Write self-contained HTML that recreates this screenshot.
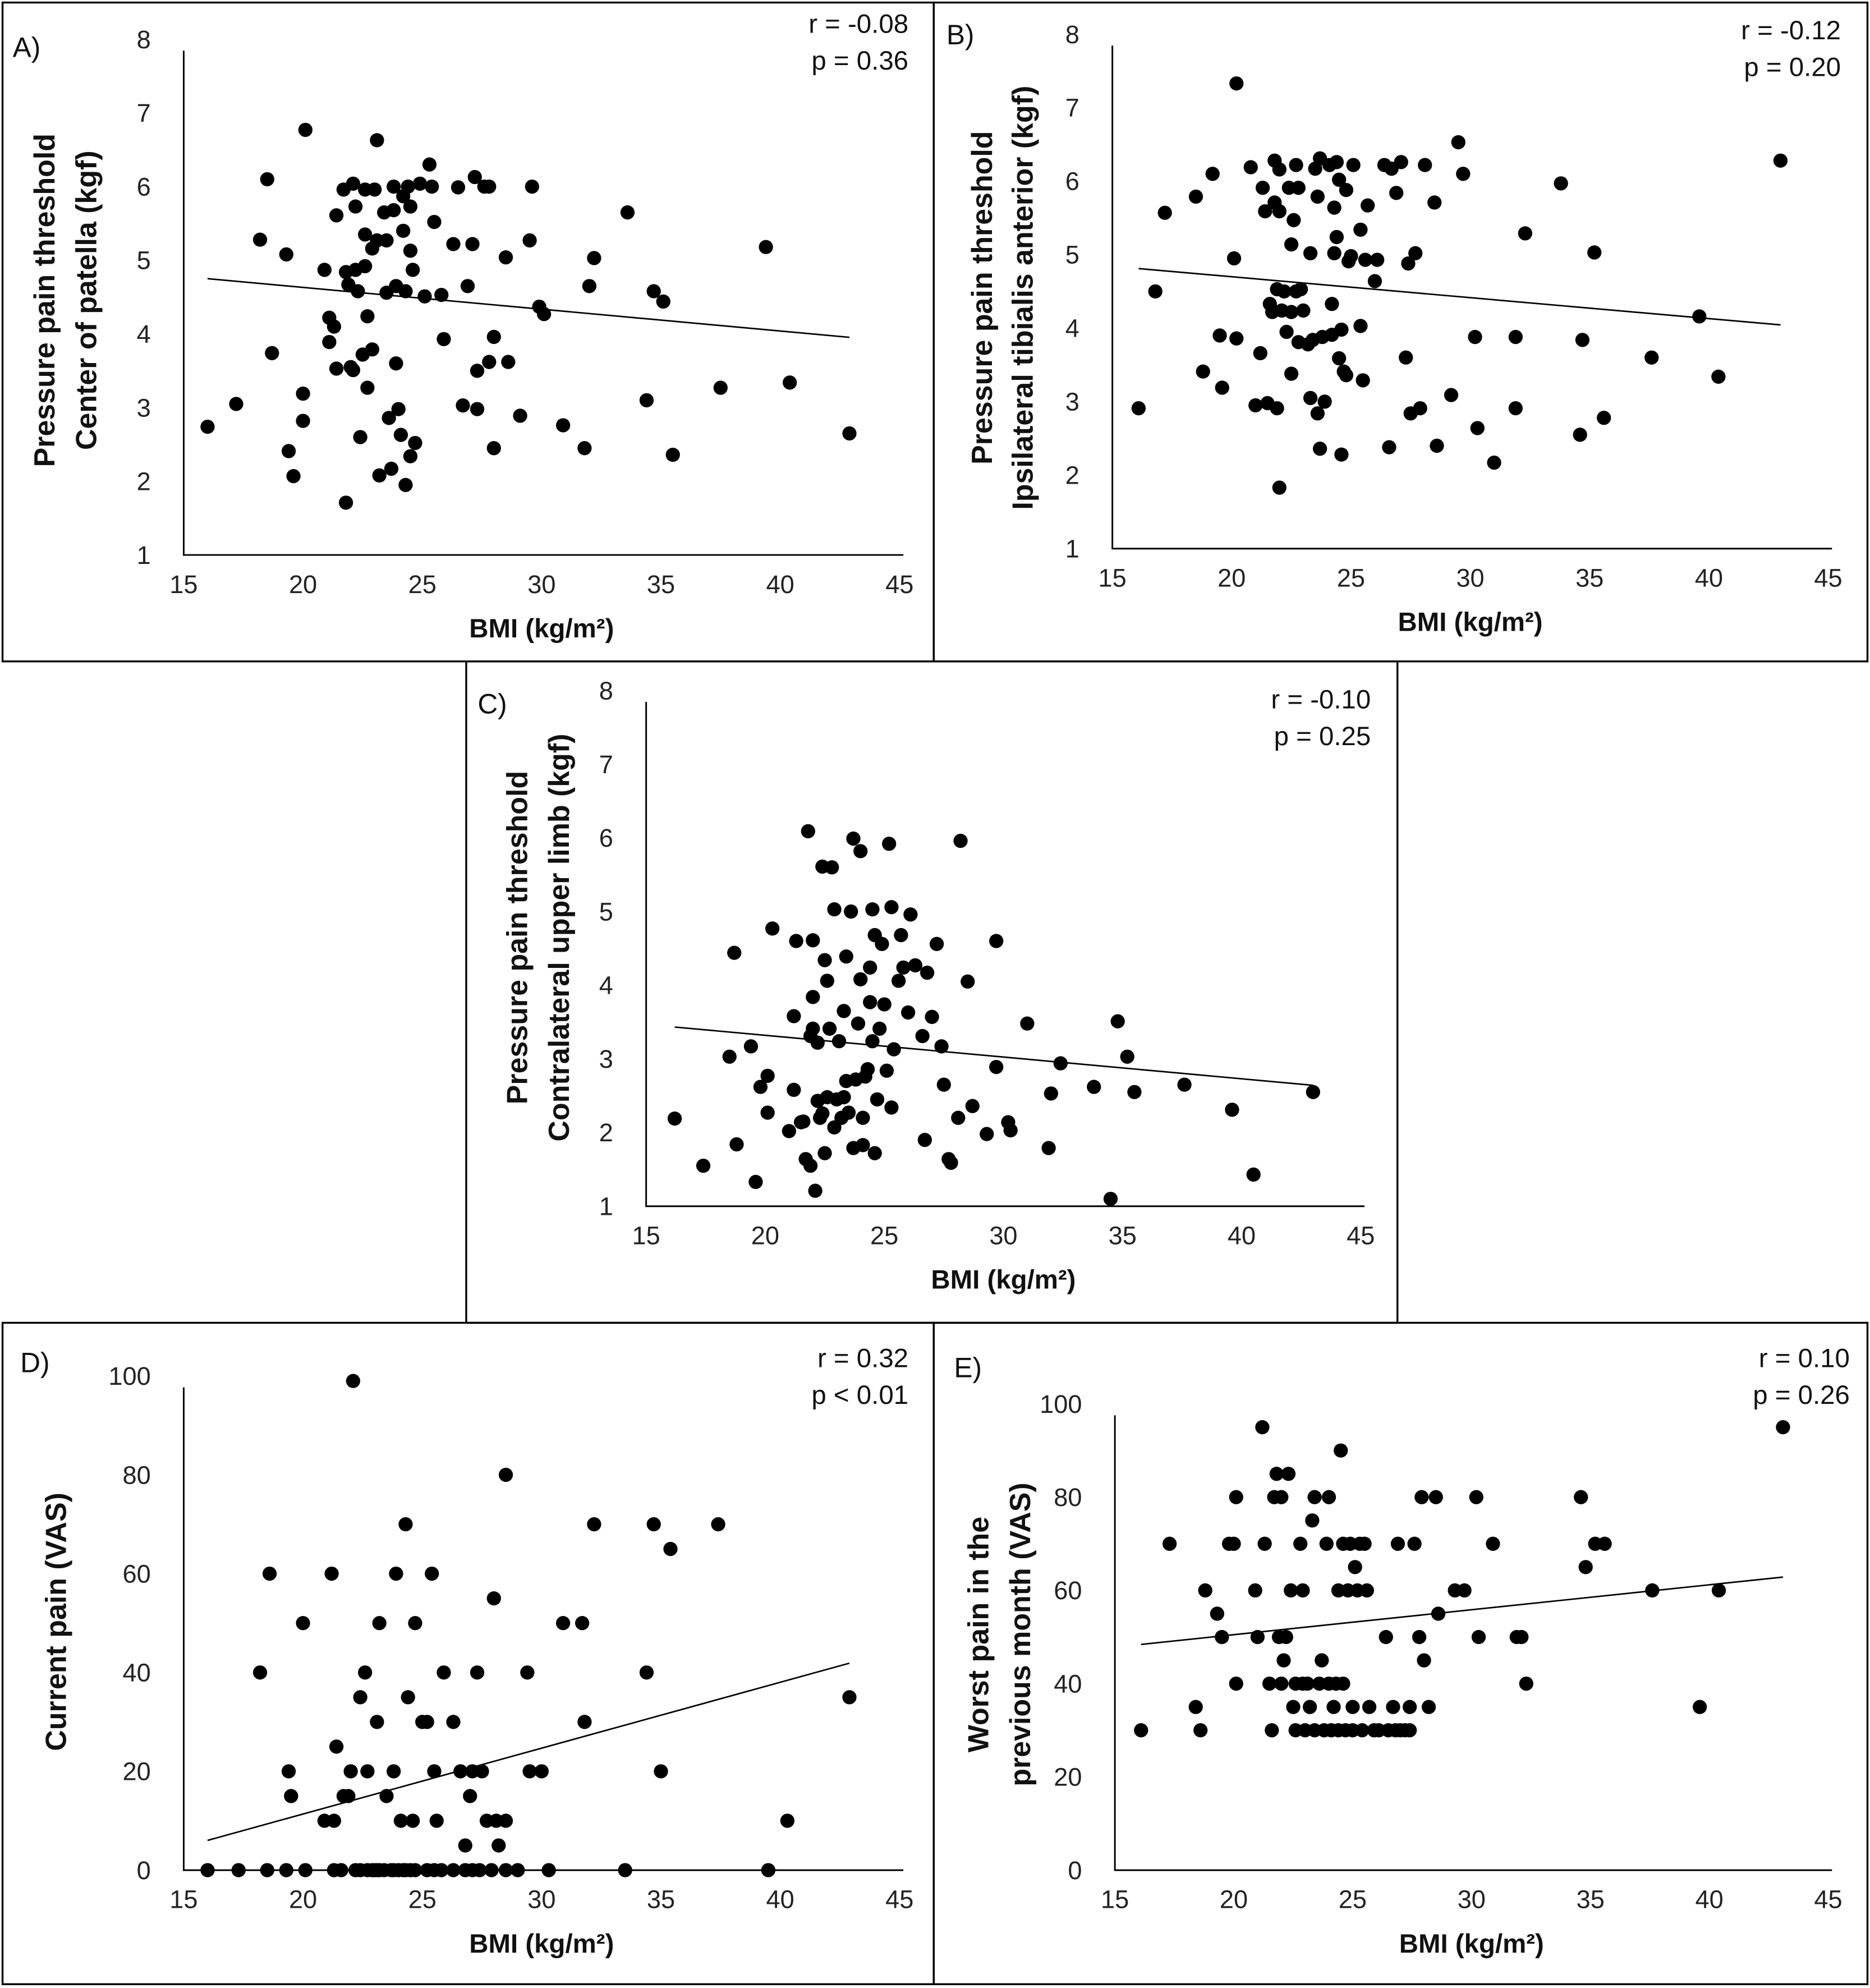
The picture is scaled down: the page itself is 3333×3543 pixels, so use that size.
<!DOCTYPE html>
<html><head><meta charset="utf-8"><style>
html,body{margin:0;padding:0;background:#fff}
svg{display:block}
text{font-family:"Liberation Sans",sans-serif;fill:#111}
.tick{font-size:20px;fill:#222}
.ttl{font-size:23px;font-weight:bold}
.xttl{font-size:21px;font-weight:bold}
.stat{font-size:21px}
.lab{font-size:22px}
</style></head><body>
<svg id="fig" width="3333" height="3543" viewBox="0 0 1476 1569">
<g fill="none" stroke="#000" stroke-width="1.5">
<rect x="2" y="2" width="735" height="520"/><rect x="737" y="2" width="737" height="520"/>
<rect x="368" y="522" width="735" height="522"/>
<rect x="2" y="1044" width="735" height="522"/><rect x="737" y="1044" width="737" height="522"/>
</g>
</svg>
<script>
const xTicks=[15,20,25,30,35,40,45];
const yTicksKgf=[1,2,3,4,5,6,7,8];
const yTicksVas=[0,20,40,60,80,100];
const aX=[16.0,17.2,18.5,18.2,18.7,19.3,19.4,19.6,20.0,20.0,20.1,20.9,21.1,21.1,21.3,21.4,21.4,21.7,21.8,21.8,22.0,22.1,21.9,22.1,22.2,22.2,22.4,22.3,22.5,22.6,22.6,22.6,22.7,22.7,22.9,22.9,23.0,23.1,23.1,23.2,23.4,23.5,23.5,23.6,23.7,23.8,23.8,23.9,23.9,24.0,24.1,24.2,24.2,24.3,24.3,24.4,24.5,24.5,24.5,24.6,24.7,24.9,25.1,25.3,25.4,25.5,25.8,25.9,26.3,26.5,26.7,26.9,27.1,27.2,27.3,27.3,27.6,27.8,27.8,28.0,28.0,28.5,28.6,29.1,29.5,29.6,29.9,30.1,30.9,31.8,32.0,32.2,33.6,34.4,34.7,35.1,35.5,37.5,39.4,40.4,42.9];
const aY=[2.74,3.05,6.1,5.28,3.74,5.08,2.41,2.07,3.19,2.82,6.77,4.87,4.22,3.89,4.1,3.53,5.61,5.96,1.71,4.84,3.55,3.51,4.67,6.04,5.73,4.87,2.6,4.58,3.72,5.96,5.35,4.92,4.24,3.27,3.79,5.16,5.96,6.63,5.27,2.08,5.65,4.56,5.27,2.86,2.17,6.0,5.68,3.6,4.65,2.98,2.63,5.87,5.4,1.95,4.58,6.0,5.73,5.13,2.34,4.87,2.52,6.04,4.51,6.3,6.0,5.52,4.53,3.93,5.22,5.99,3.03,4.65,5.22,6.13,2.98,3.5,6.0,6.0,3.62,2.45,3.96,5.04,3.62,2.89,5.27,6.0,4.37,4.27,2.76,2.45,4.65,5.03,5.65,3.1,4.58,4.44,2.36,3.27,5.18,3.34,2.65];
const aFit=[-0.0296,5.224];
const bX=[16.1,17.2,16.8,18.5,18.8,19.2,19.5,19.6,20.2,20.1,20.2,20.8,21.0,21.2,21.3,21.4,21.5,21.6,21.7,21.8,21.8,21.9,22.0,21.9,22.0,22.0,22.1,22.2,22.3,22.4,22.5,22.5,22.5,22.6,22.7,22.7,22.8,22.8,22.9,23.0,23.2,23.3,23.3,23.4,23.5,23.6,23.6,23.7,23.7,23.8,23.9,24.1,24.2,24.2,24.3,24.3,24.4,24.4,24.5,24.5,24.6,24.6,24.7,24.8,24.8,24.9,25.0,25.1,25.4,25.4,25.5,25.6,25.7,26.0,26.1,26.4,26.6,26.7,26.9,27.1,27.3,27.4,27.5,27.7,27.9,28.1,28.5,28.6,29.2,29.5,29.7,30.2,30.3,31.0,31.9,31.9,32.3,33.8,34.6,34.7,35.2,35.6,37.6,39.6,40.4,43.0];
const bY=[2.91,5.57,4.5,5.79,3.41,6.1,3.9,3.19,3.86,4.95,7.33,6.19,2.95,3.66,5.91,5.59,2.98,4.33,4.22,5.71,6.28,4.53,1.83,2.91,6.16,5.59,4.24,4.5,3.95,5.91,5.14,3.38,4.22,5.47,6.22,4.5,3.81,5.91,4.53,4.24,3.78,5.02,3.05,3.84,6.17,5.79,2.84,6.31,2.36,3.88,3.0,6.22,4.33,3.91,5.64,5.02,6.26,5.24,6.02,3.59,2.28,3.98,3.41,5.88,3.36,4.91,4.98,6.22,4.03,5.34,3.29,4.93,5.67,4.64,4.93,6.22,2.38,6.17,5.84,6.26,3.6,4.88,2.84,5.02,2.91,6.22,5.71,2.4,3.09,6.53,6.1,3.88,2.64,2.17,3.88,2.91,5.29,5.97,2.55,3.84,5.03,2.78,3.6,4.16,3.34,6.28];
const bFit=[-0.0285,5.27];
const cX=[16.2,17.4,18.5,18.7,18.8,19.4,19.6,19.8,20.1,20.1,20.3,21.0,21.2,21.2,21.3,21.5,21.6,21.7,21.8,21.9,21.9,22.0,22.0,22.0,22.1,22.2,22.2,22.3,22.4,22.4,22.5,22.5,22.6,22.6,22.7,22.8,22.9,22.9,23.0,23.1,23.2,23.3,23.3,23.4,23.4,23.5,23.6,23.7,23.7,23.8,23.9,24.0,24.0,24.1,24.1,24.2,24.3,24.4,24.4,24.5,24.5,24.6,24.6,24.7,24.8,24.9,25.0,25.1,25.2,25.3,25.3,25.4,25.6,25.7,25.8,26.0,26.1,26.3,26.6,26.7,26.8,27.0,27.2,27.4,27.5,27.7,27.8,28.1,28.2,28.5,28.7,29.3,29.7,29.7,30.2,30.3,31.0,31.9,32.0,32.4,33.8,34.5,34.8,35.2,35.5,37.6,39.6,40.5,43.0];
const cY=[2.19,1.55,3.03,4.44,1.84,3.17,1.33,2.62,2.27,2.77,4.77,2.02,2.58,3.58,4.6,2.14,2.15,1.64,6.09,1.55,3.31,4.61,3.84,3.41,1.21,3.22,2.43,2.2,2.26,5.61,4.34,1.72,2.48,4.06,3.41,5.6,5.03,2.07,2.45,3.24,2.2,2.48,3.65,4.39,2.7,2.27,5.0,5.99,1.79,2.72,3.48,5.82,4.08,1.83,2.2,2.76,2.86,3.77,4.24,5.03,3.24,4.68,1.72,2.45,3.41,4.56,3.74,2.84,5.92,5.06,2.34,3.13,4.06,4.68,4.24,3.63,4.96,4.27,3.31,1.9,4.17,3.57,4.56,3.17,2.65,1.64,1.59,2.2,5.96,4.05,2.36,1.98,4.6,2.89,2.14,2.03,3.48,1.79,2.53,2.94,2.62,1.1,3.51,3.03,2.55,2.65,2.31,1.43,2.55];
const cFit=[-0.0295,3.91];
const dX=[16.0,17.3,18.5,19.3,20.1,21.3,21.6,22.2,22.4,22.7,22.9,23.0,23.1,23.2,23.4,23.7,23.8,24.0,24.2,24.3,24.5,24.7,25.2,25.5,25.8,26.3,26.8,27.1,27.4,27.9,28.5,29.0,30.3,33.5,39.5,
18.2,18.6,19.4,19.5,20.0,20.9,21.2,21.3,21.4,21.7,21.9,22.0,22.1,22.4,22.6,22.7,23.1,23.2,23.5,23.8,23.9,24.1,24.3,24.4,24.6,24.7,25.0,25.2,25.4,25.5,25.6,25.9,26.3,26.6,26.8,27.0,27.1,27.3,27.5,27.7,28.0,28.1,28.2,28.5,28.5,29.4,29.5,30.0,30.9,31.7,31.8,32.2,34.4,34.7,35.0,35.4,37.4,40.3,42.9];
const dY=[0,0,0,0,0,0,0,0,0,0,0,0,0,0,0,0,0,0,0,0,0,0,0,0,0,0,0,0,0,0,0,0,0,0,0,
40,60,20,15,50,10,60,10,25,15,15,20,99,35,40,20,30,50,15,20,60,10,70,35,10,50,30,30,60,20,10,40,30,20,5,15,20,40,20,10,55,10,5,80,10,40,20,20,50,50,30,70,40,70,20,65,70,10,35];
const dFit=[1.333,-15.3];
const eX=[16.1,17.3,18.4,18.6,18.8,19.3,19.5,19.8,20.0,20.1,20.1,20.9,21.0,21.2,21.3,21.5,21.6,21.7,21.8,21.9,22.0,22.0,22.1,22.2,22.3,22.4,22.5,22.6,22.6,22.8,22.9,22.9,23.0,23.1,23.2,23.3,23.4,23.4,23.6,23.7,23.8,23.9,24.0,24.0,24.1,24.2,24.3,24.4,24.4,24.5,24.6,24.6,24.7,24.8,24.9,25.0,25.0,25.1,25.2,25.3,25.4,25.5,25.6,25.7,25.9,26.1,26.4,26.5,26.7,26.8,26.9,27.0,27.2,27.4,27.4,27.6,27.8,27.9,28.0,28.2,28.5,28.6,29.3,29.7,30.2,30.3,30.9,31.9,32.1,32.3,34.6,34.8,35.2,35.6,37.6,39.6,40.4,43.1];
const eY=[30,70,35,30,60,55,50,70,70,80,40,60,50,95,70,40,30,80,85,50,80,40,45,50,85,60,35,30,40,70,40,60,30,40,35,75,30,80,40,45,30,70,40,80,30,35,40,60,30,90,70,40,30,60,70,35,30,65,60,70,30,70,60,35,30,30,50,30,35,30,70,30,30,35,30,70,50,80,45,35,80,55,60,60,80,50,70,50,50,40,80,65,70,70,60,35,60,95];
const eFit=[0.535,39.8];

const NS="http://www.w3.org/2000/svg";
const svg=document.getElementById('fig');
function mk(tag,attrs,parent){const e=document.createElementNS(NS,tag);for(const k in attrs)e.setAttribute(k,attrs[k]);(parent||svg).appendChild(e);return e;}
function txt(s,attrs,parent){const t=mk('text',attrs,parent);t.textContent=s;return t;}

function panel(p){
  const g=mk('g',{});
  
  
  const sx=v=>p.x0+(v-15)/30*(p.x1-p.x0);
  const sy=v=>p.y0-(v-p.ymin)/(p.ymax-p.ymin)*(p.y0-p.y1);
  const ax=mk('path',{d:`M${p.x0} ${p.y1+9}V${p.y0}H${p.x1+3}`,fill:'none',stroke:'#000','stroke-width':1.3},g);
  
  
  xTicks.forEach(v=>{const t=txt(String(v),{x:sx(v),y:p.y0+30,'text-anchor':'middle',class:'tick'},g);
    
    });
  p.yt.forEach(v=>{const t=txt(String(v),{x:p.x0-26,y:sy(v)+7,'text-anchor':'end',class:'tick'},g);
    
    });
  const xt=txt('BMI (kg/m²)',{x:(p.x0+p.x1)/2,y:p.y0+65,'text-anchor':'middle',class:'xttl'},g);
  
  
  p.ylines.forEach((s,i)=>{const yc=p.ytc;const xx=p.ytx[i];
    const t=txt(s,{x:xx,y:yc,'text-anchor':'middle',class:'ttl',transform:`rotate(-90 ${xx} ${yc})`},g);
    
    });
  const lb=txt(p.id+')',{x:p.lx,y:p.ly,class:'lab'},g);
  
  
  p.stats.forEach((s,i)=>{const t=txt(s,{x:p.sx,y:p.sy+i*29,'text-anchor':'end',class:'stat'},g);
    
    });
  p.xs.forEach((v,i)=>{const c=mk('circle',{cx:sx(v),cy:sy(p.ys[i]),r:5.6,fill:'#000'},g);
    
    });
  const xa=Math.min(...p.xs),xb=Math.max(...p.xs);
  const ln=mk('line',{x1:sx(xa),y1:sy(p.fit[0]*xa+p.fit[1]),x2:sx(xb),y2:sy(p.fit[0]*xb+p.fit[1]),stroke:'#000','stroke-width':1.2},g);
  
  
}
panel({id:'A',x0:145,x1:710,y0:438,y1:31,ymin:1,ymax:8,yt:yTicksKgf,xs:aX,ys:aY,fit:aFit,
  ylines:['Pressure pain threshold','Center of patella (kgf)'],ytx:[43,76],ytc:237,lx:10,ly:45,sx:717,sy:26,stats:['r = -0.08','p = 0.36']});
panel({id:'B',x0:878,x1:1443,y0:433,y1:27,ymin:1,ymax:8,yt:yTicksKgf,xs:bX,ys:bY,fit:bFit,
  ylines:['Pressure pain threshold','Ipsilateral tibialis anterior (kgf)'],ytx:[783,815],ytc:235,lx:747,ly:35,sx:1453,sy:31,stats:['r = -0.12','p = 0.20']});
panel({id:'C',x0:510,x1:1074,y0:952,y1:545,ymin:1,ymax:8,yt:yTicksKgf,xs:cX,ys:cY,fit:cFit,
  ylines:['Pressure pain threshold','Contralateral upper limb (kgf)'],ytx:[416,449],ytc:740,lx:377,ly:563,sx:1082,sy:559,stats:['r = -0.10','p = 0.25']});
panel({id:'D',x0:145,x1:710,y0:1476,y1:1086,ymin:0,ymax:100,yt:yTicksVas,xs:dX,ys:dY,fit:dFit,
  ylines:['Current pain (VAS)'],ytx:[52],ytc:1280,lx:16,ly:1083,sx:717,sy:1079,stats:['r = 0.32','p < 0.01']});
panel({id:'E',x0:880,x1:1443,y0:1476,y1:1108,ymin:0,ymax:100,yt:yTicksVas,xs:eX,ys:eY,fit:eFit,
  ylines:['Worst pain in the','previous month (VAS)'],ytx:[780,813],ytc:1290,lx:753,ly:1087,sx:1460,sy:1079,stats:['r = 0.10','p = 0.26']});
</script>
</body></html>
